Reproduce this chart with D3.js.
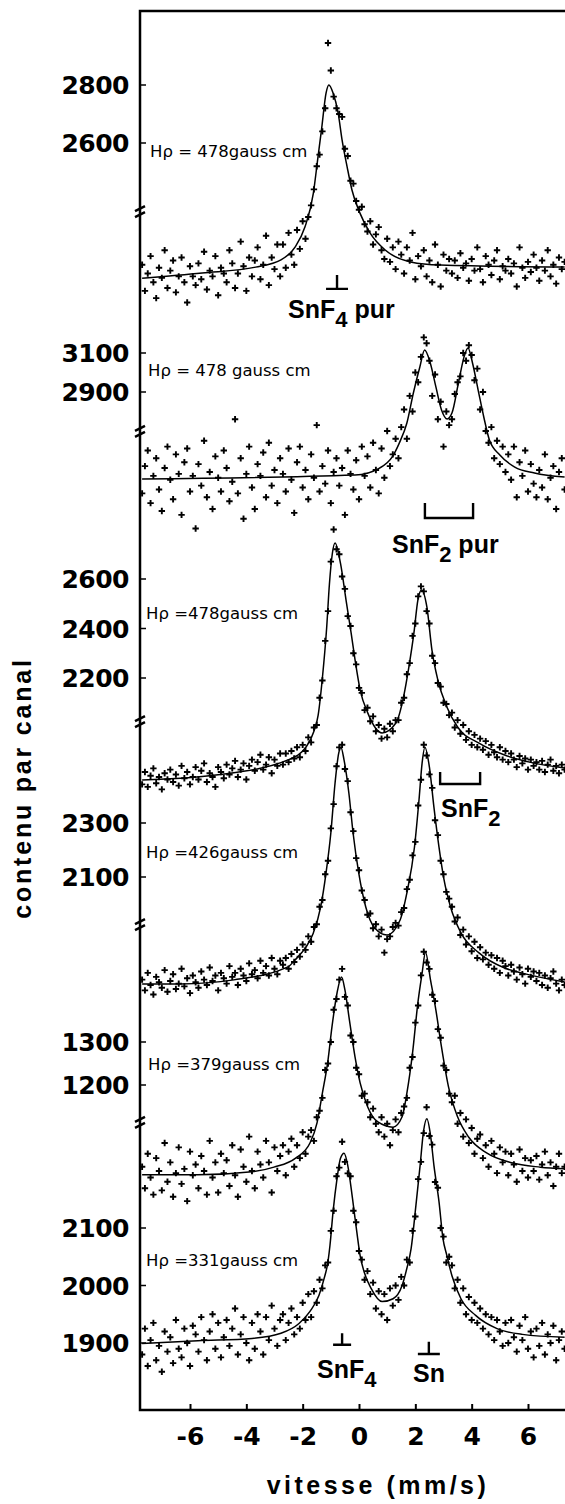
<!DOCTYPE html>
<html>
<head>
<meta charset="utf-8">
<script src="https://cdn.jsdelivr.net/npm/d3@7"></script>
<style>
  body { margin: 0; background: #fff; }
  svg { display: block; }
</style>
</head>
<body>
<svg id="draw"></svg>
<script>
// channel velocities (mm/s), shared by all six spectra
const velocity = [
  -7.7,-7.6,-7.5,-7.4,-7.3,-7.2,-7.1,-7.0,-6.9,-6.8,
  -6.7,-6.6,-6.5,-6.4,-6.3,-6.2,-6.1,-6.0,-5.9,-5.8,
  -5.7,-5.6,-5.5,-5.4,-5.3,-5.2,-5.1,-5.0,-4.9,-4.8,
  -4.7,-4.6,-4.5,-4.4,-4.3,-4.2,-4.1,-4.0,-3.9,-3.8,
  -3.7,-3.6,-3.5,-3.4,-3.3,-3.2,-3.1,-3.0,-2.9,-2.8,
  -2.7,-2.6,-2.5,-2.4,-2.3,-2.2,-2.1,-2.0,-1.9,-1.8,
  -1.7,-1.6,-1.5,-1.4,-1.3,-1.2,-1.1,-1.0,-0.9,-0.8,
  -0.7,-0.6,-0.5,-0.4,-0.3,-0.2,-0.1,0.0,0.1,0.2,
  0.3,0.4,0.5,0.6,0.7,0.8,0.9,1.0,1.1,1.2,
  1.3,1.4,1.5,1.6,1.7,1.8,1.9,2.0,2.1,2.2,
  2.3,2.4,2.5,2.6,2.7,2.8,2.9,3.0,3.1,3.2,
  3.3,3.4,3.5,3.6,3.7,3.8,3.9,4.0,4.1,4.2,
  4.3,4.4,4.5,4.6,4.7,4.8,4.9,5.0,5.1,5.2,
  5.3,5.4,5.5,5.6,5.7,5.8,5.9,6.0,6.1,6.2,
  6.3,6.4,6.5,6.6,6.7,6.8,6.9,7.0,7.1,7.2,7.3
];

// counts per channel, one array per spectrum (top to bottom)
const counts1 = [
  2180,2090,2150,2210,2120,2065,2170,2135,2230,2100,
  2160,2195,2085,2140,2205,2120,2050,2175,2140,2110,
  2185,2130,2225,2095,2160,2140,2210,2075,2170,2150,
  2120,2230,2185,2100,2150,2260,2175,2090,2205,2140,
  2195,2240,2130,2180,2280,2110,2205,2165,2250,2140,
  2250,2170,2290,2215,2180,2300,2235,2330,2270,2345,
  2385,2440,2520,2560,2640,2720,2945,2850,2760,2720,
  2700,2690,2580,2555,2470,2460,2400,2370,2380,2320,
  2295,2330,2250,2285,2310,2230,2200,2270,2190,2240,
  2165,2260,2215,2150,2240,2195,2290,2130,2210,2175,
  2230,2140,2195,2120,2250,2180,2105,2215,2160,2200,
  2150,2195,2135,2220,2170,2185,2125,2200,2160,2240,
  2165,2120,2210,2180,2145,2195,2230,2130,2175,2160,
  2200,2150,2185,2105,2240,2170,2135,2190,2155,2215,
  2170,2125,2195,2160,2230,2140,2180,2115,2205,2165,2190
];
const counts2 = [
  2380,2520,2600,2330,2470,2560,2400,2290,2510,2620,
  2450,2350,2580,2480,2270,2540,2610,2390,2470,2200,
  2530,2420,2650,2360,2490,2300,2570,2460,2390,2600,
  2510,2340,2440,2760,2380,2560,2250,2480,2620,2410,
  2300,2530,2470,2590,2360,2640,2420,2500,2330,2560,
  2480,2390,2610,2450,2280,2540,2620,2410,2500,2350,
  2580,2460,2730,2390,2520,2430,2600,2330,2490,2560,
  2420,2510,2270,2600,2480,2400,2550,2350,2620,2470,
  2570,2410,2640,2500,2380,2610,2460,2700,2520,2580,
  2660,2560,2720,2810,2660,2880,2800,3000,2950,3080,
  3180,3150,3060,2880,2990,2760,2850,2620,2800,2730,
  2760,2890,2950,2980,3100,3060,3140,3090,2960,3020,
  2810,2900,2700,2640,2720,2560,2650,2530,2620,2490,
  2580,2450,2620,2360,2540,2470,2600,2390,2530,2430,
  2360,2500,2410,2580,2350,2460,2520,2300,2490,2560,2400
];
const counts3 = [
  1770,1820,1760,1805,1835,1775,1800,1750,1815,1790,
  1830,1780,1810,1765,1845,1795,1820,1770,1800,1840,
  1790,1825,1855,1780,1815,1800,1760,1840,1820,1795,
  1850,1810,1835,1865,1800,1830,1855,1790,1845,1870,
  1825,1860,1890,1830,1850,1880,1815,1870,1845,1895,
  1850,1895,1860,1905,1875,1920,1880,1930,1905,1960,
  1940,2000,2010,2120,2190,2350,2470,2670,2800,2720,
  2700,2610,2560,2450,2410,2300,2255,2160,2140,2070,
  2080,2025,2045,1985,2010,1955,1995,1960,2015,1985,
  2030,2030,2100,2120,2215,2260,2370,2420,2530,2570,
  2550,2470,2420,2290,2260,2180,2165,2100,2095,2050,
  2060,2000,2030,1975,2010,1950,1985,1930,1970,1920,
  1955,1910,1945,1890,1930,1900,1880,1920,1870,1905,
  1860,1895,1870,1840,1885,1855,1875,1830,1870,1845,
  1860,1830,1865,1820,1850,1870,1825,1845,1815,1850,1830
];
const counts4 = [
  1720,1680,1745,1700,1665,1730,1710,1690,1755,1675,
  1715,1740,1685,1705,1760,1695,1725,1670,1735,1710,
  1690,1750,1720,1700,1765,1715,1735,1680,1745,1725,
  1705,1770,1730,1745,1700,1760,1735,1715,1780,1740,
  1755,1725,1790,1745,1770,1735,1800,1760,1740,1790,
  1775,1800,1760,1815,1785,1830,1805,1850,1830,1880,
  1860,1915,1925,1990,2015,2110,2160,2280,2370,2510,
  2580,2590,2500,2455,2340,2270,2170,2125,2050,2015,
  1960,1965,1910,1925,1880,1905,1820,1870,1880,1915,
  1930,1920,1970,1985,2055,2090,2180,2230,2365,2460,
  2590,2550,2480,2430,2310,2255,2160,2110,2045,2020,
  1990,1935,1950,1885,1905,1850,1880,1825,1860,1800,
  1840,1795,1820,1775,1810,1760,1800,1745,1790,1770,
  1735,1775,1750,1720,1765,1740,1705,1760,1730,1750,
  1715,1745,1700,1735,1690,1725,1750,1705,1680,1720,1700
];
const counts5 = [
  1010,960,1040,985,945,1030,1000,955,1065,975,
  1020,940,995,1055,970,1005,930,1045,990,1015,
  960,1035,1000,945,1070,985,1020,950,1040,995,
  1025,965,1060,990,940,1050,1010,975,1080,1000,
  960,1045,1015,985,1070,1020,950,1055,1000,1035,
  1060,990,1045,1075,1010,1060,1030,1090,1040,1080,
  1095,1070,1125,1140,1170,1235,1250,1300,1375,1400,
  1445,1470,1405,1385,1315,1300,1240,1225,1175,1180,
  1160,1125,1145,1110,1090,1125,1080,1110,1060,1095,
  1120,1090,1135,1150,1170,1240,1265,1345,1385,1455,
  1510,1485,1470,1410,1395,1330,1310,1245,1235,1180,
  1160,1175,1110,1135,1080,1120,1065,1100,1040,1075,
  1085,1030,1060,1010,1070,1040,995,1055,1020,1045,
  990,1040,1015,975,1050,1000,1030,985,1025,1000,
  1035,980,1015,1045,990,1020,965,1010,1040,995,1010
];
const counts6 = [
  1880,1925,1860,1905,1935,1870,1895,1850,1920,1885,
  1910,1865,1940,1890,1875,1925,1900,1860,1930,1915,
  1885,1945,1905,1870,1920,1950,1890,1935,1875,1910,
  1940,1895,1925,1960,1880,1915,1945,1900,1870,1935,
  1890,1950,1920,1880,1945,1905,1965,1925,1895,1940,
  1950,1905,1935,1960,1915,1945,1925,1970,1940,1985,
  1945,1990,1970,2010,1995,2035,2040,2095,2130,2190,
  2205,2250,2215,2195,2190,2130,2110,2060,2045,2010,
  2025,1985,2005,1960,1990,1950,1985,1940,1995,1965,
  2000,1975,2015,2000,2045,2040,2095,2120,2185,2215,
  2265,2310,2260,2245,2180,2170,2100,2085,2040,2050,
  2035,1995,2010,1970,1995,1950,1980,1940,1970,1935,
  1960,1925,1950,1915,1945,1905,1940,1920,1895,1935,
  1900,1940,1910,1885,1930,1905,1945,1890,1920,1875,
  1925,1895,1935,1880,1915,1900,1930,1870,1905,1920,1890
];

// fitted curves [velocity, counts]
const fit1 = [[-7.7,2134],[-5.57,2152],[-3.67,2172],[-2.77,2197],[-2.27,2241],[-1.92,2310],[-1.62,2427],[-1.47,2541],[-1.32,2655],[-1.17,2772],[-1.07,2800],[-0.92,2772],[-0.74,2703],[-0.6,2610],[-0.42,2517],[-0.25,2438],[0.03,2359],[0.39,2290],[0.93,2231],[1.83,2190],[2.88,2179],[7.3,2172]];
const fit2 = [[-7.7,2454],[-0.14,2474],[0.73,2510],[1.18,2567],[1.43,2638],[1.7,2741],[1.93,2895],[2.16,3028],[2.33,3115],[2.53,3049],[2.73,2926],[2.93,2808],[3.13,2762],[3.3,2792],[3.53,2946],[3.73,3080],[3.87,3126],[4.03,3049],[4.23,2910],[4.43,2772],[4.63,2654],[5.0,2577],[5.53,2515],[6.23,2485],[7.3,2464]];
const fit3 = [[-7.7,1788],[-5.08,1808],[-2.52,1869],[-1.88,1921],[-1.6,1985],[-1.45,2050],[-1.3,2200],[-1.15,2400],[-1.05,2580],[-0.95,2700],[-0.85,2745],[-0.66,2665],[-0.46,2515],[-0.28,2382],[-0.14,2273],[0.04,2152],[0.31,2059],[0.82,1978],[1.31,2018],[1.58,2123],[1.77,2244],[1.95,2382],[2.09,2515],[2.22,2556],[2.41,2487],[2.59,2313],[2.8,2192],[3.12,2083],[3.5,2002],[4.26,1937],[5.17,1889],[6.18,1857],[7.3,1836]];
const fit4 = [[-7.7,1704],[-6.35,1704],[-4.44,1719],[-2.52,1767],[-2.27,1793],[-1.88,1841],[-1.62,1893],[-1.36,1989],[-1.17,2115],[-1.0,2263],[-0.85,2448],[-0.72,2559],[-0.64,2580],[-0.53,2533],[-0.36,2411],[-0.21,2263],[-0.01,2115],[0.24,1989],[0.56,1911],[0.99,1885],[1.46,1941],[1.7,2041],[1.97,2211],[2.13,2385],[2.24,2522],[2.34,2581],[2.5,2507],[2.66,2359],[2.84,2211],[3.02,2089],[3.25,1989],[3.62,1893],[4.26,1819],[5.17,1763],[5.8,1744],[7.3,1711]];
const fit5 = [[-7.7,991],[-5.72,991],[-3.8,998],[-3.02,1009],[-2.25,1030],[-1.74,1065],[-1.49,1112],[-1.3,1181],[-1.1,1258],[-0.96,1335],[-0.78,1414],[-0.62,1451],[-0.5,1421],[-0.34,1351],[-0.14,1265],[0.04,1205],[0.31,1149],[0.67,1114],[1.21,1102],[1.53,1126],[1.7,1181],[1.9,1274],[2.09,1391],[2.24,1460],[2.36,1509],[2.54,1444],[2.73,1374],[2.93,1288],[3.18,1195],[3.5,1126],[3.89,1079],[4.53,1042],[5.42,1019],[6.44,1009],[7.3,1005]];
const fit6 = [[-7.7,1899],[-5.72,1904],[-3.8,1908],[-2.77,1917],[-2.13,1934],[-1.74,1955],[-1.42,1983],[-1.24,2012],[-1.1,2042],[-1.03,2070],[-0.92,2129],[-0.78,2186],[-0.66,2221],[-0.53,2230],[-0.4,2209],[-0.23,2151],[-0.08,2094],[0.04,2052],[0.18,2024],[0.43,1995],[0.82,1972],[1.21,1977],[1.53,2000],[1.7,2030],[1.85,2064],[2.02,2139],[2.17,2209],[2.29,2268],[2.41,2290],[2.54,2261],[2.66,2209],[2.84,2146],[2.98,2082],[3.12,2052],[3.3,2017],[3.62,1977],[4.14,1948],[4.9,1925],[5.8,1915],[7.3,1910]];

// tick labels
const ticks1 = [2800, 2600];
const ticks2 = [3100, 2900];
const ticks3 = [2600, 2400, 2200];
const ticks4 = [2300, 2100];
const ticks5 = [1300, 1200];
const ticks6 = [2100, 2000, 1900];
const xTicks = [-6, -4, -2, 0, 2, 4, 6];

const fieldLabels = ["H\u03c1 = 478gauss cm", "H\u03c1 = 478 gauss cm", "H\u03c1 =478gauss cm",
  "H\u03c1 =426gauss cm", "H\u03c1 =379gauss cm", "H\u03c1 =331gauss cm"];

const width = 565, height = 1504;
const plotLeft = 140, plotTop = 11, plotBottom = 1410, plotRight = 565;
const numFont = "'DejaVu Sans', sans-serif";
const wordFont = "'Liberation Sans', Arial, sans-serif";

const svg = d3.select("#draw")
  .attr("width", width)
  .attr("height", height);

const x = d3.scaleLinear().domain([-6, 6]).range([190, 528]);

// layout of each stacked spectrum: value domain -> pixel range
const panels = [
  { counts: counts1, fit: fit1, ticks: ticks1, domain: [2600, 2800], range: [143, 85],  label: [-7.42, 2552], brk: 2362 },
  { counts: counts2, fit: fit2, ticks: ticks2, domain: [2900, 3100], range: [392, 353], label: [-7.49, 2982], brk: 2695 },
  { counts: counts3, fit: fit3, ticks: ticks3, domain: [2200, 2600], range: [678, 579], label: [-7.56, 2438], brk: 2022 },
  { counts: counts4, fit: fit4, ticks: ticks4, domain: [2100, 2300], range: [877, 823], label: [-7.56, 2170], brk: 1922 },
  { counts: counts5, fit: fit5, ticks: ticks5, domain: [1200, 1300], range: [1085, 1042], label: [-7.49, 1235], brk: 1112 },
  { counts: counts6, fit: fit6, ticks: ticks6, domain: [1900, 2100], range: [1343, 1228], label: [-7.56, 2034], brk: null }
];

svg.append("defs").append("clipPath").attr("id", "plot")
  .append("rect")
  .attr("x", plotLeft + 1).attr("y", plotTop)
  .attr("width", plotRight - plotLeft).attr("height", plotBottom - plotTop);

const data = svg.append("g").attr("clip-path", "url(#plot)");
const cross = "M-3.2,0H3.2M0,-3.2V3.2";

panels.forEach(function(p, k) {
  p.y = d3.scaleLinear().domain(p.domain).range(p.range);
  const y = p.y;

  data.append("g")
    .selectAll("path")
    .data(velocity)
    .enter().append("path")
    .attr("transform", (v, i) => "translate(" + x(v) + "," + y(p.counts[i]) + ")")
    .attr("d", cross)
    .attr("stroke", "#000")
    .attr("stroke-width", 1.9);

  const line = d3.line()
    .x(d => x(d[0]))
    .y(d => y(d[1]))
    .curve(d3.curveMonotoneX);

  data.append("path")
    .datum(p.fit)
    .attr("d", line)
    .attr("fill", "none")
    .attr("stroke", "#000")
    .attr("stroke-width", 1.5);

  // y ticks + labels
  const tg = svg.append("g");
  tg.selectAll("line")
    .data(p.ticks)
    .enter().append("line")
    .attr("x1", plotLeft).attr("x2", plotLeft + 6)
    .attr("y1", d => y(d)).attr("y2", d => y(d))
    .attr("stroke", "#000").attr("stroke-width", 1.5);
  tg.selectAll("text")
    .data(p.ticks)
    .enter().append("text")
    .attr("x", plotLeft - 11)
    .attr("y", d => y(d))
    .attr("dy", "0.36em")
    .attr("text-anchor", "end")
    .attr("font-family", numFont)
    .attr("font-weight", "bold")
    .attr("font-size", 25)
    .attr("letter-spacing", -0.5)
    .text(d => d);

  svg.append("text")
    .attr("x", x(p.label[0]))
    .attr("y", y(p.label[1]))
    .attr("font-family", numFont)
    .attr("font-size", 16.5)
    .attr("fill", "#000")
    .text(fieldLabels[k]);

  if (p.brk != null) {
    const yb = y(p.brk);
    svg.append("path")
      .attr("d", "M" + (plotLeft - 5) + "," + (yb - 1) + "L" + (plotLeft + 5) + "," + (yb - 6) +
                 "M" + (plotLeft - 5) + "," + (yb + 5) + "L" + (plotLeft + 5) + "," + yb)
      .attr("stroke", "#000").attr("stroke-width", 2.5);
  }
});

// frame
svg.append("path")
  .attr("d", "M" + plotRight + "," + plotTop + "H" + plotLeft + "V" + plotBottom + "H" + plotRight)
  .attr("fill", "none")
  .attr("stroke", "#000")
  .attr("stroke-width", 2.5);

// x axis
const xAxis = d3.axisBottom(x)
  .tickValues(xTicks)
  .tickSizeInner(-6)
  .tickSizeOuter(0)
  .tickPadding(17)
  .tickFormat(d => String(d));

const gx = svg.append("g")
  .attr("transform", "translate(0," + plotBottom + ")")
  .call(xAxis);
gx.select(".domain").remove();
gx.selectAll(".tick line").attr("stroke", "#000").attr("stroke-width", 2);
gx.selectAll(".tick text")
  .attr("font-family", numFont)
  .attr("font-weight", "bold")
  .attr("font-size", 25)
  .attr("fill", "#000");

// markers: ⊥ ticks and brackets, in data units of their panel
function stick(p, v, v0, v1, hw) {
  const y = p.y;
  svg.append("path")
    .attr("d", "M" + x(v) + "," + y(v0) + "V" + y(v1) + "M" + x(v - hw) + "," + y(v1) + "H" + x(v + hw))
    .attr("fill", "none").attr("stroke", "#000").attr("stroke-width", 2.4);
}
function bracket(p, va, vb, v0, v1) {
  const y = p.y;
  svg.append("path")
    .attr("d", "M" + x(va) + "," + y(v0) + "V" + y(v1) + "H" + x(vb) + "V" + y(v0))
    .attr("fill", "none").attr("stroke", "#000").attr("stroke-width", 2.4);
}
function formula(p, v, c, base, sub, rest) {
  const t = svg.append("text")
    .attr("x", x(v)).attr("y", p.y(c))
    .attr("font-family", wordFont)
    .attr("font-weight", "bold")
    .attr("font-size", 25);
  t.append("tspan").text(base);
  t.append("tspan").attr("dy", 9).attr("font-size", 22).text(sub);
  if (rest) t.append("tspan").attr("dy", -9).text(rest);
}

stick(panels[0], -0.78, 2145, 2097, 0.39);
formula(panels[0], -2.52, 1997, "SnF", "4", " pur");
bracket(panels[1], 2.34, 4.05, 2331, 2254);
formula(panels[1], 1.17, 2074, "SnF", "2", " pur");
bracket(panels[2], 2.88, 4.3, 1820, 1772);
formula(panels[2], 2.91, 1638, "SnF", "2", null);
stick(panels[5], -0.6, 1917, 1897, 0.32);
stick(panels[5], 2.48, 1902, 1881, 0.39);
formula(panels[5], -1.49, 1839, "SnF", "4", null);
formula(panels[5], 1.92, 1832, "Sn", "", null);

// axis titles
svg.append("text")
  .attr("transform", "translate(31,788) rotate(-90)")
  .attr("text-anchor", "middle")
  .attr("font-family", wordFont)
  .attr("font-weight", "bold")
  .attr("font-size", 25)
  .attr("letter-spacing", 2.8)
  .text("contenu par canal");

svg.append("text")
  .attr("x", 378)
  .attr("y", 1494)
  .attr("text-anchor", "middle")
  .attr("font-family", wordFont)
  .attr("font-weight", "bold")
  .attr("font-size", 25)
  .attr("letter-spacing", 3.5)
  .text("vitesse (mm/s)");
</script>
</body>
</html>
